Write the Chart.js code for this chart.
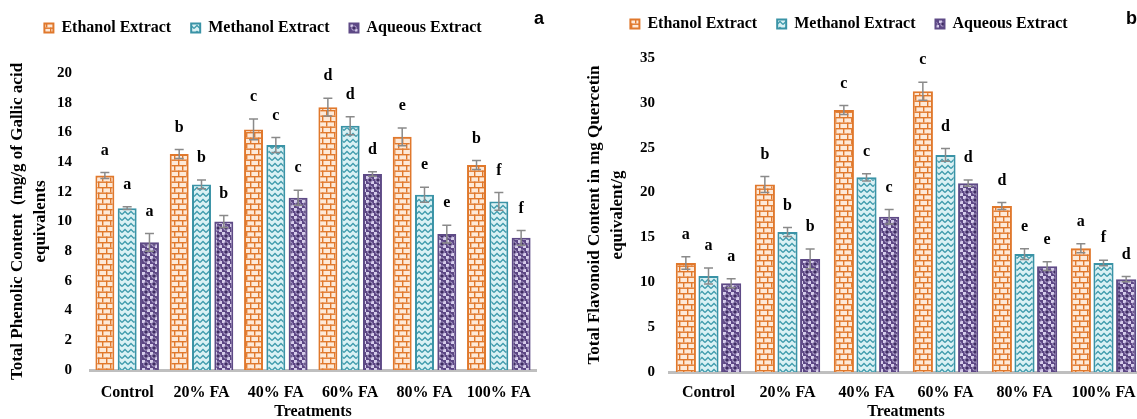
<!DOCTYPE html>
<html>
<head>
<meta charset="utf-8">
<script src="https://cdn.jsdelivr.net/npm/chart.js@4.4.1/dist/chart.umd.min.js"></script>
<style>
  html, body { margin: 0; padding: 0; background: #fff; overflow: hidden; }
  body { width: 1137px; height: 419px; position: relative; }
  .box { position: absolute; }
  .tag { position: absolute; font: bold 18px "Liberation Sans", Arial, sans-serif; color: #000; }
</style>
</head>
<body>
<div class="box" style="left:-10px; top:0px; width:560px; height:421px;"><canvas id="phenolic"></canvas></div>
<div class="box" style="left:555px; top:-4px; width:600px; height:425px;"><canvas id="flavonoid"></canvas></div>
<span class="tag" style="left:534px; top:8px;">a</span>
<span class="tag" style="left:1126px; top:8px;">b</span>
<script>
const treatments = ["Control", "20% FA", "40% FA", "60% FA", "80% FA", "100% FA"];
const seriesNames = ["Ethanol Extract", "Methanol Extract", "Aqueous Extract"];

// total phenolic content (mg/g GAE)
const phenEthanol = [13.1, 14.55, 16.2, 17.7, 15.7, 13.8];
const phenMethanol = [10.9, 12.5, 15.15, 16.45, 11.8, 11.35];
const phenAqueous = [8.6, 10.0, 11.6, 13.2, 9.15, 8.9];
const phenEthanolErr = [0.2, 0.3, 0.7, 0.6, 0.6, 0.3];
const phenMethanolErr = [0.1, 0.3, 0.5, 0.6, 0.5, 0.6];
const phenAqueousErr = [0.6, 0.4, 0.5, 0.15, 0.6, 0.5];
const phenEthanolLetters = ["a", "b", "c", "d", "e", "b"];
const phenMethanolLetters = ["a", "b", "c", "d", "e", "f"];
const phenAqueousLetters = ["a", "b", "c", "d", "e", "f"];

// total flavonoid content (mg QE/g)
const flavEthanol = [12.15, 20.9, 29.2, 31.3, 18.5, 13.8];
const flavMethanol = [10.7, 15.6, 21.7, 24.2, 13.15, 12.15];
const flavAqueous = [9.9, 12.6, 17.3, 21.05, 11.8, 10.35];
const flavEthanolErr = [0.7, 0.9, 0.5, 1.0, 0.4, 0.5];
const flavMethanolErr = [0.9, 0.5, 0.4, 0.7, 0.6, 0.3];
const flavAqueousErr = [0.5, 1.1, 0.8, 0.35, 0.5, 0.3];
const flavEthanolLetters = ["a", "b", "c", "c", "d", "a"];
const flavMethanolLetters = ["a", "b", "c", "d", "e", "f"];
const flavAqueousLetters = ["a", "b", "c", "d", "e", "d"];

const serif = "'Liberation Serif', 'Times New Roman', serif";

// fill patterns
function tile(w, h, paint) {
  const c = document.createElement("canvas");
  c.width = w; c.height = h;
  const g = c.getContext("2d");
  paint(g);
  return g.createPattern(c, "repeat");
}

const brick = tile(8, 11, g => {
  g.fillStyle = "#fde9d8";
  g.fillRect(0, 0, 8, 11);
  g.fillStyle = "#e0782c";
  g.fillRect(0, 0, 8, 1.4);
  g.fillRect(0, 5.5, 8, 1.4);
  g.fillRect(0, 0, 1.4, 5.5);
  g.fillRect(4, 5.5, 1.4, 5.5);
});

const zigzag = tile(6, 6, g => {
  g.fillStyle = "#daf1f4";
  g.fillRect(0, 0, 6, 6);
  g.strokeStyle = "#3f9bac";
  g.lineWidth = 1.3;
  g.beginPath();
  g.moveTo(0, 4.5); g.lineTo(3, 1.5); g.lineTo(6, 4.5);
  g.stroke();
});

const dots = tile(8, 8, g => {
  g.fillStyle = "#5c4684";
  g.fillRect(0, 0, 8, 8);
  g.fillStyle = "#d6cdea";
  g.fillRect(0, 0, 3, 3);
  g.fillRect(5, 5, 3, 3);
  g.fillStyle = "#b9abd6";
  g.beginPath(); g.arc(4, 4, 2.6, 0, Math.PI * 2); g.fill();
  g.fillStyle = "#3f2c63";
  g.beginPath(); g.arc(4, 4, 1.8, 0, Math.PI * 2); g.fill();
});

const looks = [
  { fill: brick, border: "#e0782c" },
  { fill: zigzag, border: "#3a93a6" },
  { fill: dots, border: "#5e4a86" }
];

// error bars + significance letters drawn from each dataset's own bars
const errorBars = {
  id: "errorBars",
  afterDatasetsDraw(chart) {
    const ctx = chart.ctx;
    const y = chart.scales.y;
    ctx.save();
    chart.data.datasets.forEach((ds, i) => {
      const meta = chart.getDatasetMeta(i);
      meta.data.forEach((bar, j) => {
        const v = ds.data[j], e = ds.errors[j];
        const top = y.getPixelForValue(v + e);
        const bot = y.getPixelForValue(v - e);
        ctx.strokeStyle = "#8a8a8a";
        ctx.lineWidth = 1.5;
        ctx.beginPath();
        ctx.moveTo(bar.x, top); ctx.lineTo(bar.x, bot);
        ctx.moveTo(bar.x - 4.5, top); ctx.lineTo(bar.x + 4.5, top);
        ctx.moveTo(bar.x - 4.5, bot); ctx.lineTo(bar.x + 4.5, bot);
        ctx.stroke();
        ctx.fillStyle = "#000";
        ctx.font = "bold 16px " + serif;
        ctx.textAlign = "center";
        ctx.textBaseline = "middle";
        ctx.fillText(ds.letters[j], bar.x, top - 22);
      });
    });
    ctx.restore();
  }
};

function makeChart(id, values, errors, letters, opts) {
  const datasets = values.map((vals, i) => ({
    label: seriesNames[i],
    data: vals,
    errors: errors[i],
    letters: letters[i],
    backgroundColor: looks[i].fill,
    borderColor: looks[i].border,
    borderWidth: 2,
    categoryPercentage: opts.catPct,
    barPercentage: opts.barPct
  }));
  return new Chart(document.getElementById(id), {
    type: "bar",
    data: { labels: treatments, datasets },
    plugins: [errorBars],
    options: {
      responsive: true,
      maintainAspectRatio: false,
      animation: false,
      layout: { padding: { left: 0, right: opts.padRight, top: 0, bottom: 0 } },
      plugins: {
        tooltip: { enabled: false },
        legend: {
          position: "top",
          labels: {
            boxWidth: 9, boxHeight: 9, padding: 20,
            color: "#000",
            font: { family: serif, size: 16, weight: "bold" }
          }
        },
        subtitle: {
          display: true, text: "", weight: 500,
          font: { size: 1, lineHeight: 1 },
          padding: { top: 0, bottom: opts.gap }
        }
      },
      scales: {
        x: {
          afterFit: s => { s.height = opts.xHeight; },
          grid: { display: false, drawTicks: false },
          border: { display: true, color: "#bfbfbf", width: 3 },
          ticks: { color: "#000", padding: opts.xPad, maxRotation: 0, minRotation: 0, font: { family: serif, size: 16, weight: "bold" } },
          title: {
            display: true, text: "Treatments", color: "#000",
            padding: { top: 2, bottom: 0 },
            font: { family: serif, size: 16, weight: "bold", lineHeight: 1.15 }
          }
        },
        y: {
          min: 0, max: opts.max,
          afterFit: s => { s.width = opts.yWidth; },
          grid: { display: false, drawTicks: false },
          border: { display: false },
          ticks: { stepSize: opts.step, color: "#000", padding: opts.yPad, font: { family: serif, size: 15, weight: "bold" } },
          title: {
            display: true, text: opts.yTitle, color: "#000",
            padding: { top: opts.titleTop, bottom: 0 },
            font: { family: serif, size: 17, weight: "bold", lineHeight: 1.3 }
          }
        }
      }
    }
  });
}

makeChart("phenolic",
  [phenEthanol, phenMethanol, phenAqueous],
  [phenEthanolErr, phenMethanolErr, phenAqueousErr],
  [phenEthanolLetters, phenMethanolLetters, phenAqueousLetters],
  {
    max: 20, step: 2, padRight: 14, gap: 26, xPad: 13, yPad: 18, xHeight: 51, yWidth: 100,
    titleTop: 17, catPct: 0.9, barPct: 0.85,
    yTitle: ["Total Phenolic Content  (mg/g of Gallic acid", "equivalents"]
  });

makeChart("flavonoid",
  [flavEthanol, flavMethanol, flavAqueous],
  [flavEthanolErr, flavMethanolErr, flavAqueousErr],
  [flavEthanolLetters, flavMethanolLetters, flavAqueousLetters],
  {
    max: 35, step: 5, padRight: 12, gap: 15, xPad: 11, yPad: 14, xHeight: 49, yWidth: 114,
    titleTop: 29, catPct: 0.86, barPct: 0.89,
    yTitle: ["Total Flavonoid Content in mg Quercetin", "equivalent/g"]
  });
</script>
</body>
</html>
